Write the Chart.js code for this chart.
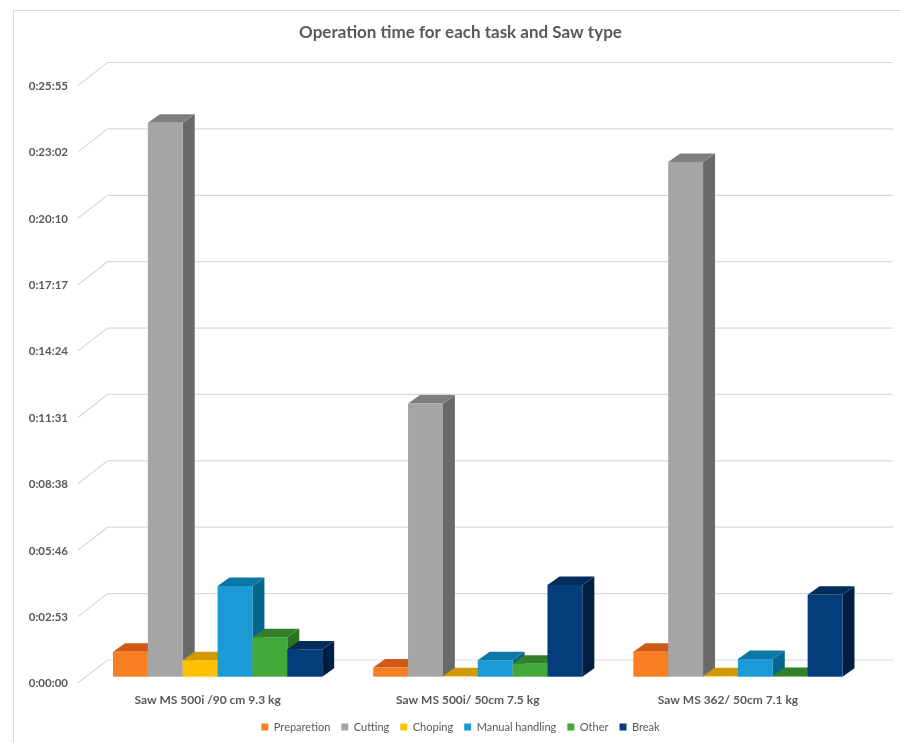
<!DOCTYPE html>
<html>
<head>
<meta charset="utf-8">
<script src="https://cdn.jsdelivr.net/npm/chart.js@4/dist/chart.umd.min.js"></script>
<style>
  body { margin: 0; background: #fff; }
  #wrap { width: 900px; height: 743px; position: relative; }
</style>
</head>
<body>
<div id="wrap"><canvas id="opChart"></canvas></div>
<script>
// values in seconds
const saws = ['Saw MS 500i /90 cm 9.3 kg', 'Saw MS 500i/ 50cm 7.5 kg', 'Saw MS 362/ 50cm 7.1 kg'];
const tasks = ['Preparetion', 'Cutting', 'Choping', 'Manual handling', 'Other', 'Break'];
const preparation = [65, 24, 65];
const cutting = [1442, 711, 1340];
const choping = [43, 1, 1];
const manualHandling = [236, 43, 46];
const other = [103, 34, 2];
const breakTime = [71, 239, 213];
const tickSeconds = [0, 172.8, 345.6, 518.4, 691.2, 864, 1036.8, 1209.6, 1382.4, 1555.2];
const tickLabels = ['0:00:00', '0:02:53', '0:05:46', '0:08:38', '0:11:31', '0:14:24', '0:17:17', '0:20:10', '0:23:02', '0:25:55'];

const frontColors = ['#FA7F22', '#A5A5A5', '#FFC000', '#1C9AD6', '#43A83A', '#033D7B'];
const topColors = ['#CF5A16', '#7F7F7F', '#D09A00', '#0C77A6', '#33802A', '#032D5C'];
const sideColors = ['#B84E12', '#6A6A6A', '#B88700', '#06658C', '#2A7321', '#001F43'];
const DX = 12, DY = 8.5;
const textColor = '#595959';
const gridColor = '#D9D9D9';

const bars3d = {
  id: 'bars3d',
  beforeDraw(chart) {
    const ctx = chart.ctx;
    ctx.save();
    ctx.strokeStyle = gridColor;
    ctx.lineWidth = 1;
    ctx.beginPath();
    ctx.moveTo(13.5, chart.height);
    ctx.lineTo(13.5, 10.5);
    ctx.lineTo(chart.width, 10.5);
    ctx.stroke();
    ctx.restore();
  },
  beforeDatasetsDraw(chart) {
    const ctx = chart.ctx;
    const ys = chart.scales.y;
    const area = chart.chartArea;
    ctx.save();
    // back wall gridlines with the little diagonal to the front
    ctx.strokeStyle = gridColor;
    ctx.lineWidth = 1.2;
    ys.ticks.forEach(t => {
      const py = ys.getPixelForValue(t.value);
      ctx.beginPath();
      ctx.moveTo(area.left - 9.5, py + 6.3);
      ctx.lineTo(area.left + 20, py - 16.7);
      ctx.lineTo(area.right + 25, py - 16.7);
      ctx.stroke();
    });
    // bars: per category, left to right, so later fronts hide earlier sides
    const metas = chart.data.datasets.map((d, i) => chart.getDatasetMeta(i));
    for (let j = 0; j < saws.length; j++) {
      metas.forEach((meta, i) => {
        const el = meta.data[j];
        const p = el.getProps(['x', 'y', 'base', 'width'], true);
        const l = p.x - p.width / 2, r = p.x + p.width / 2;
        const top = p.y, base = p.base;
        ctx.fillStyle = sideColors[i];
        ctx.beginPath();
        ctx.moveTo(r, base);
        ctx.lineTo(r, top);
        ctx.lineTo(r + DX, top - DY);
        ctx.lineTo(r + DX, base - DY);
        ctx.closePath();
        ctx.fill();
        ctx.fillStyle = topColors[i];
        ctx.beginPath();
        ctx.moveTo(l, top);
        ctx.lineTo(r, top);
        ctx.lineTo(r + DX, top - DY);
        ctx.lineTo(l + DX, top - DY);
        ctx.closePath();
        ctx.fill();
        ctx.fillStyle = frontColors[i];
        ctx.fillRect(l, top, p.width, base - top);
      });
    }
    ctx.restore();
    return false;
  }
};

const series = [preparation, cutting, choping, manualHandling, other, breakTime];

new Chart(document.getElementById('opChart'), {
  type: 'bar',
  data: {
    labels: saws,
    datasets: series.map((vals, i) => ({
      label: tasks[i],
      data: vals,
      backgroundColor: frontColors[i],
      borderWidth: 0,
      categoryPercentage: 0.804,
      barPercentage: 1
    }))
  },
  options: {
    responsive: true,
    maintainAspectRatio: false,
    animation: false,
    layout: { padding: { left: 21, right: 0, top: 0, bottom: 1.5 } },
    plugins: {
      title: {
        display: true,
        text: 'Operation time for each task and Saw type',
        color: textColor,
        font: { family: 'Lato', size: 17, weight: 'bold' },
        padding: { top: 22, bottom: 36.8 }
      },
      legend: {
        position: 'bottom',
        maxHeight: 31,
        labels: {
          color: textColor,
          font: { family: 'Lato', size: 11 },
          boxWidth: 7,
          boxHeight: 7,
          padding: 11
        }
      },
      tooltip: { enabled: false }
    },
    scales: {
      x: {
        grid: { display: false, drawTicks: false },
        border: { display: false },
        afterFit: s => { s.height = 33.8; },
        ticks: {
          color: textColor,
          font: { family: 'Lato', size: 12, weight: 'bold' },
          padding: 16,
          labelOffset: -10,
          maxRotation: 0
        }
      },
      y: {
        min: 0,
        max: 1555.2,
        grid: { display: false, drawTicks: false },
        border: { display: false },
        afterFit: s => { s.width = 66.5; },
        afterBuildTicks: s => { s.ticks = tickSeconds.map(v => ({ value: v })); },
        ticks: {
          color: textColor,
          font: { family: 'Lato', size: 11.5, weight: 'bold' },
          padding: 19.5,
          labelOffset: 7,
          callback: (v, idx) => tickLabels[idx]
        }
      },
      y2: {
        position: 'right',
        grid: { display: false, drawTicks: false },
        border: { display: false },
        ticks: { display: false },
        afterFit: s => { s.width = 32; }
      }
    }
  },
  plugins: [bars3d]
});
</script>
</body>
</html>
